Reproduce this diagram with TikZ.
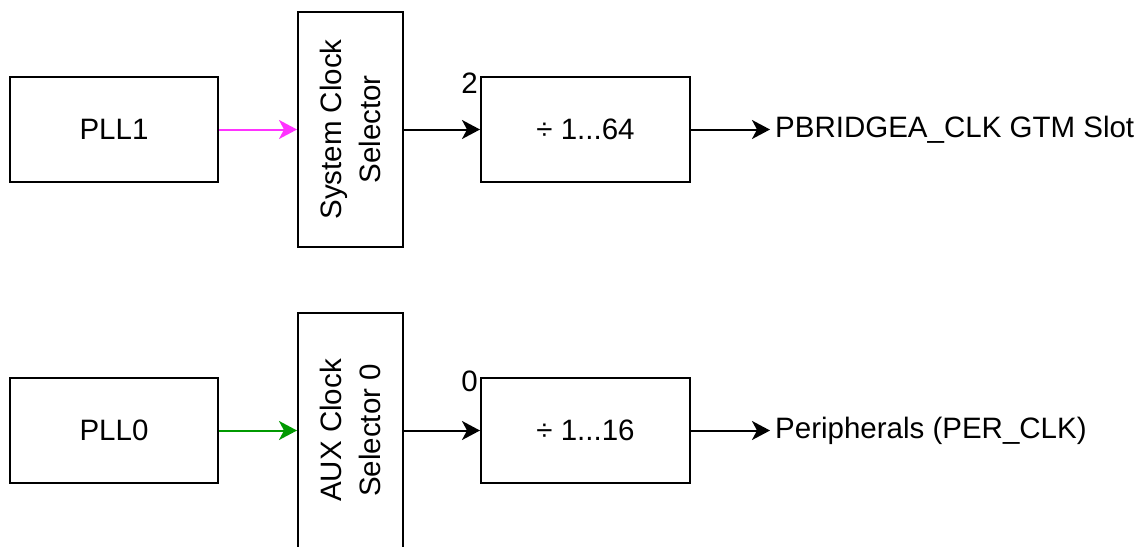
\documentclass[tikz,border=0pt]{standalone}
\usepackage{fontspec}
\setmainfont{Liberation Sans}
\usetikzlibrary{arrows.meta}
\definecolor{magentaline}{HTML}{FF33FF}
\definecolor{greenline}{HTML}{009900}
\begin{document}
\begin{tikzpicture}[x=1pt,y=-1pt,
  box/.style={draw=black, line width=2pt, fill=white, inner sep=0pt, font=\fontsize{29.5}{37}\selectfont},
  conn/.style={line width=2pt, -{Stealth[length=18pt,width=19pt,inset=5pt]}},
  lbl/.style={inner sep=0pt, font=\fontsize{29.5}{37}\selectfont},
  outl/.style={inner ysep=0pt, inner xsep=5pt, font=\fontsize{29.5}{37}\selectfont},
  rot/.style={rotate=90, align=center, inner sep=0pt, font=\fontsize{29.5}{38.5}\selectfont}]
\useasboundingbox (0,0) rectangle (1139,546);
% top row
\node[box, minimum width=208pt, minimum height=105pt] (pll1) at (114,129.5) {PLL1};
\node[box, minimum width=105pt, minimum height=235pt] (sel1) at (350.5,129.5) {};
\node[rot] (sel1t) at (sel1.center) {System Clock\\Selector};
\node[box, minimum width=209pt, minimum height=105pt] (div1) at (585.5,129.5) {÷ 1...64};
\node[outl, anchor=west] (out1) at (770,129.5) {PBRIDGEA\_CLK GTM Slot};
\node[lbl] (n2) at (469.5,83.5) {2};
\draw[conn, magentaline] (pll1.east) -- (sel1.west);
\draw[conn] (sel1.east) -- (div1.west);
\draw[conn] (div1.east) -- (out1.west);
% bottom row
\node[box, minimum width=208pt, minimum height=105pt] (pll0) at (114,430.5) {PLL0};
\node[box, minimum width=105pt, minimum height=235pt] (sel0) at (350.5,430.5) {};
\node[rot] (sel0t) at (sel0.center) {AUX Clock\\Selector 0};
\node[box, minimum width=209pt, minimum height=105pt] (div0) at (585.5,430.5) {÷ 1...16};
\node[outl, anchor=west] (out0) at (770,430.5) {Peripherals (PER\_CLK)};
\node[lbl] (n0) at (469.5,381.5) {0};
\draw[conn, greenline] (pll0.east) -- (sel0.west);
\draw[conn] (sel0.east) -- (div0.west);
\draw[conn] (div0.east) -- (out0.west);
\end{tikzpicture}
\end{document}
